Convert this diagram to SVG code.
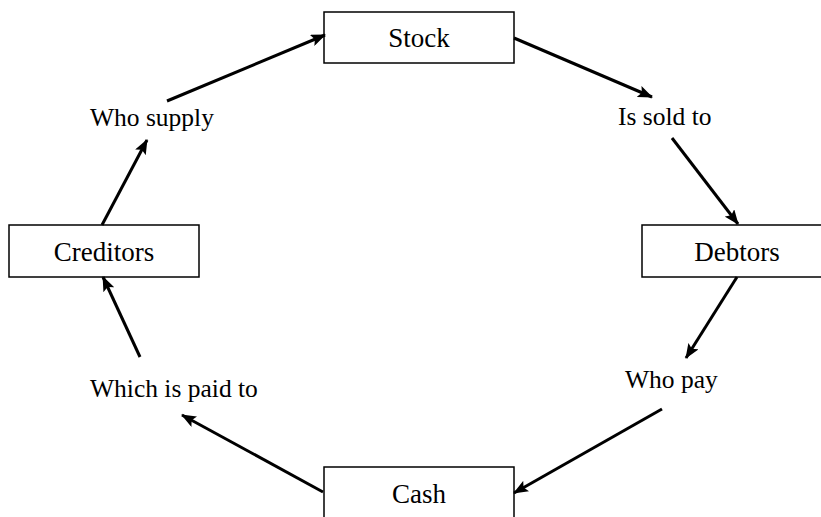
<svg xmlns="http://www.w3.org/2000/svg" width="821" height="517" viewBox="0 0 821 517">
  <style>
    .box { fill: #ffffff; stroke: #000000; stroke-width: 1.5; }
    .node-label { font-family: "Liberation Serif", "Times New Roman", serif; font-size: 27px; fill: #000000; text-anchor: middle; }
    .edge-label { font-family: "Liberation Serif", "Times New Roman", serif; font-size: 25.5px; fill: #000000; }
    .edge { stroke: #000000; stroke-width: 3; fill: none; marker-end: url(#arrow); }
  </style>
  <defs>
    <marker id="arrow" markerUnits="userSpaceOnUse" viewBox="0 0 15 12" refX="14" refY="6" markerWidth="15" markerHeight="12" orient="auto">
      <path d="M0,0 L15,6 L0,12 L3,6 z" fill="#000000"/>
    </marker>
  </defs>

  <rect x="0" y="0" width="821" height="517" fill="#ffffff"/>

  <!-- cycle nodes -->
  <g id="stock">
    <rect class="box" x="324" y="12" width="190" height="51"/>
    <text class="node-label" x="419" y="47">Stock</text>
  </g>
  <g id="debtors">
    <rect class="box" x="642" y="225" width="190" height="52"/>
    <text class="node-label" x="737" y="261">Debtors</text>
  </g>
  <g id="cash">
    <rect class="box" x="324" y="467" width="190" height="60"/>
    <text class="node-label" x="419" y="503">Cash</text>
  </g>
  <g id="creditors">
    <rect class="box" x="9" y="225" width="190" height="52"/>
    <text class="node-label" x="104" y="261">Creditors</text>
  </g>

  <!-- relation labels between nodes -->
  <g id="labels">
    <text class="edge-label" x="90" y="126">Who supply</text>
    <text class="edge-label" x="618" y="125">Is sold to</text>
    <text class="edge-label" x="625" y="388">Who pay</text>
    <text class="edge-label" x="90" y="397">Which is paid to</text>
  </g>

  <!-- connectors -->
  <g id="connectors">
    <line class="edge" x1="102" y1="225" x2="147" y2="140"/>
    <line class="edge" x1="167" y1="101" x2="325" y2="35"/>
    <line class="edge" x1="514" y1="38" x2="652" y2="97"/>
    <line class="edge" x1="672" y1="138" x2="738" y2="224"/>
    <line class="edge" x1="737" y1="277" x2="686" y2="358"/>
    <line class="edge" x1="662" y1="409" x2="514" y2="493"/>
    <line class="edge" x1="323" y1="492" x2="182" y2="415"/>
    <line class="edge" x1="140" y1="357" x2="103" y2="277"/>
  </g>
</svg>
